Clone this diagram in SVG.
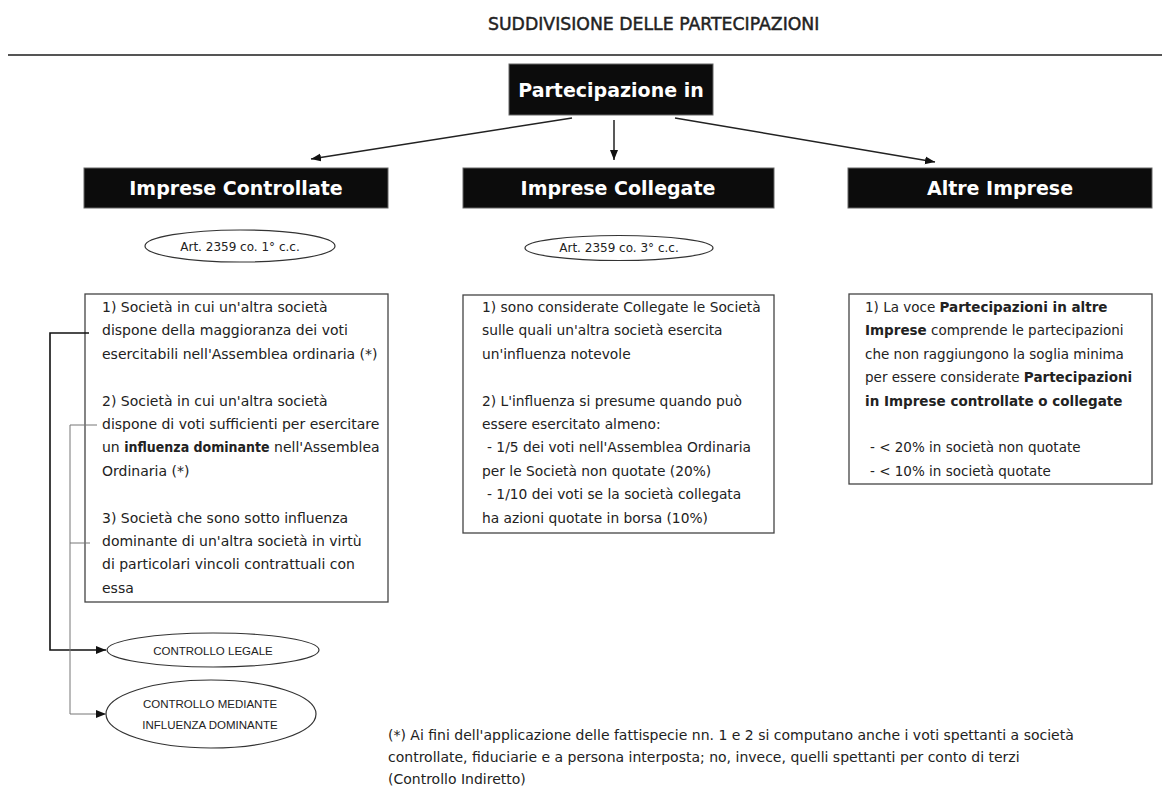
<svg xmlns="http://www.w3.org/2000/svg" width="1162" height="788" viewBox="0 0 1162 788">
<defs>
<marker id="ah" markerUnits="userSpaceOnUse" markerWidth="11" markerHeight="9" refX="10" refY="4" orient="auto">
<path d="M0,0 L10,4 L0,8 z" fill="#111"/>
</marker>
<style>
.t{font-family:"DejaVu Sans",Verdana,sans-serif;fill:#222;}
.body{font-size:14px;}
.b{font-weight:bold;}
.bc{font-family:"DejaVu Sans Condensed","DejaVu Sans",sans-serif;font-weight:bold;}
.hd{font-family:"DejaVu Sans",Verdana,sans-serif;font-weight:bold;font-size:19px;fill:#fff;text-anchor:middle;}
.bar{fill:#0c0c0c;stroke:#666;stroke-width:1;}
.box{fill:#fff;stroke:#444;stroke-width:1.3;}
.ell{fill:#fff;stroke:#333;stroke-width:1.2;}
.et{font-family:"DejaVu Sans",Verdana,sans-serif;font-size:12px;fill:#222;text-anchor:middle;}
.ct{font-family:"Liberation Sans",Arial,sans-serif;font-size:11.5px;fill:#222;text-anchor:middle;}
.arr{stroke:#222;stroke-width:1.5;fill:none;marker-end:url(#ah);}
.ln{fill:none;}
</style>
</defs>
<rect width="1162" height="788" fill="#fff"/>

<g id="title">
<text class="t" x="488" y="30" font-size="17.3" stroke="#222" stroke-width="0.45">SUDDIVISIONE DELLE PARTECIPAZIONI</text>
<line x1="8" y1="55" x2="1162" y2="55" stroke="#555" stroke-width="2"/>
</g>

<g id="root">
<rect class="bar" x="509" y="64" width="204" height="51"/>
<text class="hd" x="611" y="96.5">Partecipazione in</text>
</g>

<g id="controllate">
<rect class="bar" x="84" y="168" width="304" height="40"/>
<text class="hd" x="236" y="195">Imprese Controllate</text>
</g>
<g id="collegate">
<rect class="bar" x="463" y="168" width="311" height="40"/>
<text class="hd" x="618" y="195">Imprese Collegate</text>
</g>
<g id="altre">
<rect class="bar" x="848" y="168" width="304" height="40"/>
<text class="hd" x="1000" y="195">Altre Imprese</text>
</g>

<g id="art1">
<ellipse class="ell" cx="240" cy="246" rx="95" ry="16"/>
<text class="et" x="240" y="251">Art. 2359 co. 1° c.c.</text>
</g>
<g id="art3">
<ellipse class="ell" cx="619" cy="248" rx="94" ry="12.5"/>
<text class="et" x="619" y="252">Art. 2359 co. 3° c.c.</text>
</g>

<g id="box-controllate">
<rect class="box" x="85" y="294" width="303" height="308"/>
<text class="t body">
<tspan x="102" y="312">1) Società in cui un'altra società</tspan>
<tspan x="102" y="335.4">dispone della maggioranza dei voti</tspan>
<tspan x="102" y="358.8">esercitabili nell'Assemblea ordinaria (*)</tspan>
<tspan x="102" y="405.6">2) Società in cui un'altra società</tspan>
<tspan x="102" y="429">dispone di voti sufficienti per esercitare</tspan>
<tspan x="102" y="452.4">un <tspan class="bc">influenza dominante</tspan> nell'Assemblea</tspan>
<tspan x="102" y="475.8">Ordinaria (*)</tspan>
<tspan x="102" y="522.6">3) Società che sono sotto influenza</tspan>
<tspan x="102" y="546">dominante di un'altra società in virtù</tspan>
<tspan x="102" y="569.4">di particolari vincoli contrattuali con</tspan>
<tspan x="102" y="592.8">essa</tspan>
</text>
</g>

<g id="box-collegate">
<rect class="box" x="463" y="295" width="311" height="238"/>
<text class="t" font-size="13.8">
<tspan x="482" y="312">1) sono considerate Collegate le Società</tspan>
<tspan x="482" y="335.4">sulle quali un'altra società esercita</tspan>
<tspan x="482" y="358.8">un'influenza notevole</tspan>
<tspan x="482" y="405.6">2) L'influenza si presume quando può</tspan>
<tspan x="482" y="429">essere esercitato almeno:</tspan>
<tspan x="487" y="452.4">- 1/5 dei voti nell'Assemblea Ordinaria</tspan>
<tspan x="482" y="475.8">per le Società non quotate (20%)</tspan>
<tspan x="487" y="499.2">- 1/10 dei voti se la società collegata</tspan>
<tspan x="482" y="522.6">ha azioni quotate in borsa (10%)</tspan>
</text>
</g>

<g id="box-altre">
<rect class="box" x="849" y="294" width="303" height="190"/>
<text class="t" font-size="13.5">
<tspan x="865" y="312">1) La voce <tspan class="b">Partecipazioni in altre</tspan></tspan>
<tspan x="865" y="335.4"><tspan class="b">Imprese</tspan> comprende le partecipazioni</tspan>
<tspan x="865" y="358.8">che non raggiungono la soglia minima</tspan>
<tspan x="865" y="382.2">per essere considerate <tspan class="b">Partecipazioni</tspan></tspan>
<tspan x="865" y="405.6" class="b">in Imprese controllate o collegate</tspan>
<tspan x="870" y="452.4">- &lt; 20% in società non quotate</tspan>
<tspan x="870" y="475.8">- &lt; 10% in società quotate</tspan>
</text>
</g>

<g id="controllo-legale">
<ellipse class="ell" cx="213" cy="650" rx="106" ry="17"/>
<text class="ct" x="213" y="655">CONTROLLO LEGALE</text>
</g>
<g id="controllo-mediante">
<ellipse class="ell" cx="211" cy="714" rx="105" ry="34"/>
<text class="ct" x="210" y="708">CONTROLLO MEDIANTE</text>
<text class="ct" x="210" y="729">INFLUENZA DOMINANTE</text>
</g>

<g id="connectors">
<line class="arr" x1="572" y1="118" x2="311" y2="159"/>
<line class="arr" x1="614" y1="120" x2="614" y2="160"/>
<line class="arr" x1="675" y1="118" x2="935" y2="162"/>
<polyline class="ln" points="89,333 50,333 50,650 106,650" stroke="#111" stroke-width="1.6" marker-end="url(#ah)"/>
<polyline class="ln" points="97,425 70,425 70,714 106,714" stroke="#777" stroke-width="1" marker-end="url(#ah)"/>
<line x1="70" y1="543" x2="90" y2="543" stroke="#777" stroke-width="1"/>
</g>

<g id="footnote">
<text class="t body">
<tspan x="388" y="740">(*) Ai fini dell'applicazione delle fattispecie nn. 1 e 2 si computano anche i voti spettanti a società</tspan>
<tspan x="388" y="762">controllate, fiduciarie e a persona interposta; no, invece, quelli spettanti per conto di terzi</tspan>
<tspan x="388" y="784">(Controllo Indiretto)</tspan>
</text>
</g>
</svg>
